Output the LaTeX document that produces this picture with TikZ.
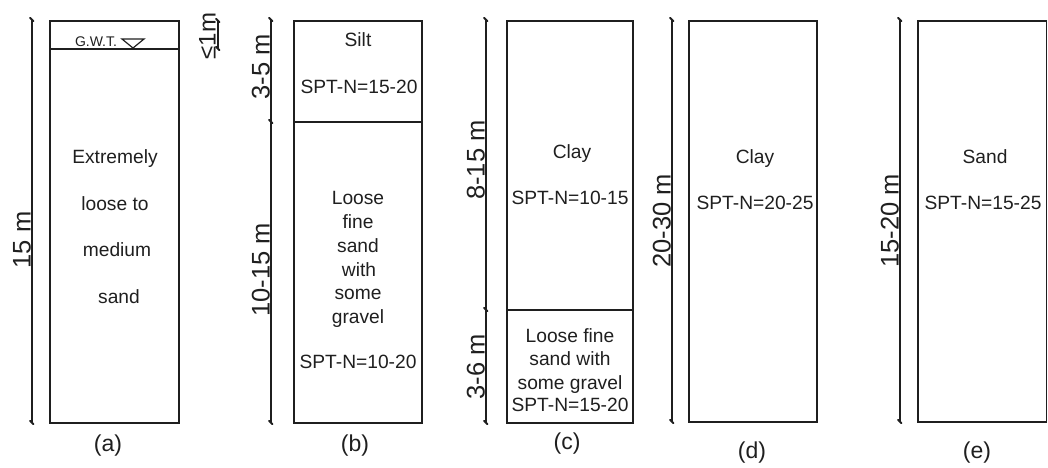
\documentclass[tikz,border=0pt]{standalone}
\usepackage{fontspec}
\setmainfont{Liberation Sans}
\begin{document}
\begin{tikzpicture}[x=1pt,y=-1pt]
\tikzset{
  soil/.style={draw=black!88, line width=1.4pt},
  dimline/.style={draw=black!88, line width=1.4pt},
  tickmk/.style={draw=black!88, line width=1.9pt, line cap=round},
  lbl/.style={font=\fontsize{19.2}{21}\selectfont, text=black!88, inner sep=0pt, text height=13.6pt, text depth=0pt, anchor=center},
  dimlbl/.style={font=\fontsize{25.5}{27}\selectfont, text=black!88, rotate=90, anchor=base, inner sep=0pt},
  caplbl/.style={font=\fontsize{23}{25}\selectfont, text=black!88, inner sep=0pt, anchor=center},
  gwt/.style={font=\fontsize{14}{15}\selectfont, text=black!88, inner sep=0pt, anchor=center},
}
\newcommand{\tickat}[1]{\draw[tickmk] (#1) ++(-2,-2.2) -- ++(3.5,3.5);}
\useasboundingbox (0,0) rectangle (1048,467);

% ---------- (a)
\coordinate (aTL) at (50,21);
\coordinate (aBR) at (179,423);
\draw[soil] (aTL) rectangle (aBR);
\coordinate (aWL) at (50,49);
\coordinate (aWR) at (179,49);
\draw[soil] (aWL) -- (aWR);
\node[gwt] (gwt) at (96,42) {G.W.T.};
\coordinate (t1) at (122,39);
\coordinate (t2) at (144,39);
\coordinate (t3) at (133,48);
\draw[soil, line width=1.2pt] (t1) -- (t2) -- (t3) -- cycle;
\node[lbl] (a1) at (115,157) {Extremely};
\node[lbl] (a2) at (115,204) {loose to};
\node[lbl] (a3) at (117,250) {medium};
\node[lbl] (a4) at (119,297) {sand};
\coordinate (ad1) at (32,20);
\coordinate (ad2) at (32,423);
\draw[dimline] (ad1) -- (ad2);
\tickat{ad1} \tickat{ad2}
\node[dimlbl] (aL) at (30.5,240) {15 m};
\coordinate (w1) at (218,21);
\coordinate (w2) at (218,49);
\draw[dimline] (w1) -- (w2);
\tickat{w1} \tickat{w2}
\node[dimlbl, font=\fontsize{24}{26}\selectfont] (wL) at (215.5,36) {≤1m};
\node[caplbl] (capa) at (108,446) {(a)};

% ---------- (b)
\coordinate (bTL) at (294,21);
\coordinate (bBR) at (422,423);
\draw[soil] (bTL) rectangle (bBR);
\coordinate (bDL) at (294,122);
\coordinate (bDR) at (422,122);
\draw[soil] (bDL) -- (bDR);
\node[lbl] (b1) at (358,40) {Silt};
\node[lbl] (b2) at (359,87) {SPT-N=15-20};
\node[lbl] (b3) at (358,198) {Loose};
\node[lbl] (b4) at (358,222) {fine};
\node[lbl] (b5) at (358,246) {sand};
\node[lbl] (b6) at (359,270) {with};
\node[lbl] (b7) at (358,293) {some};
\node[lbl] (b8) at (358,317) {gravel};
\node[lbl] (b9) at (358,362) {SPT-N=10-20};
\coordinate (bd1) at (271,20);
\coordinate (bd2) at (271,122);
\coordinate (bd3) at (271,423);
\draw[dimline] (bd1) -- (bd3);
\tickat{bd1} \tickat{bd2} \tickat{bd3}
\node[dimlbl] (bL1) at (269.5,67) {3-5 m};
\node[dimlbl] (bL2) at (269.5,270) {10-15 m};
\node[caplbl] (capb) at (355,446) {(b)};

% ---------- (c)
\coordinate (cTL) at (507,21);
\coordinate (cBR) at (633,423);
\draw[soil] (cTL) rectangle (cBR);
\coordinate (cDL) at (507,310);
\coordinate (cDR) at (633,310);
\draw[soil] (cDL) -- (cDR);
\node[lbl] (c1) at (572,152) {Clay};
\node[lbl] (c2) at (570,198) {SPT-N=10-15};
\node[lbl] (c3) at (570,336) {Loose fine};
\node[lbl] (c4) at (570,359) {sand with};
\node[lbl] (c5) at (570,383) {some gravel};
\node[lbl] (c6) at (570,405) {SPT-N=15-20};
\coordinate (cd1) at (486,20);
\coordinate (cd2) at (486,310);
\coordinate (cd3) at (486,423);
\draw[dimline] (cd1) -- (cd3);
\tickat{cd1} \tickat{cd2} \tickat{cd3}
\node[dimlbl] (cL1) at (484.5,160) {8-15 m};
\node[dimlbl] (cL2) at (484.5,367) {3-6 m};
\node[caplbl] (capc) at (567,444) {(c)};

% ---------- (d)
\coordinate (dTL) at (689,21);
\coordinate (dBR) at (817,422);
\draw[soil] (dTL) rectangle (dBR);
\node[lbl] (d1) at (755,157) {Clay};
\node[lbl] (d2) at (755,203) {SPT-N=20-25};
\coordinate (dd1) at (672,20);
\coordinate (dd2) at (672,422);
\draw[dimline] (dd1) -- (dd2);
\tickat{dd1} \tickat{dd2}
\node[dimlbl] (dL) at (670.5,221) {20-30 m};
\node[caplbl] (capd) at (752,453) {(d)};

% ---------- (e)
\coordinate (eTL) at (918,21);
\coordinate (eBR) at (1046.5,422);
\draw[soil] (eTL) rectangle (eBR);
\node[lbl] (e1) at (985,157) {Sand};
\node[lbl] (e2) at (983,203) {SPT-N=15-25};
\coordinate (ed1) at (900,20);
\coordinate (ed2) at (900,422);
\draw[dimline] (ed1) -- (ed2);
\tickat{ed1} \tickat{ed2}
\node[dimlbl] (eL) at (898.5,221) {15-20 m};
\node[caplbl] (cape) at (977,453) {(e)};
\end{tikzpicture}
\end{document}
